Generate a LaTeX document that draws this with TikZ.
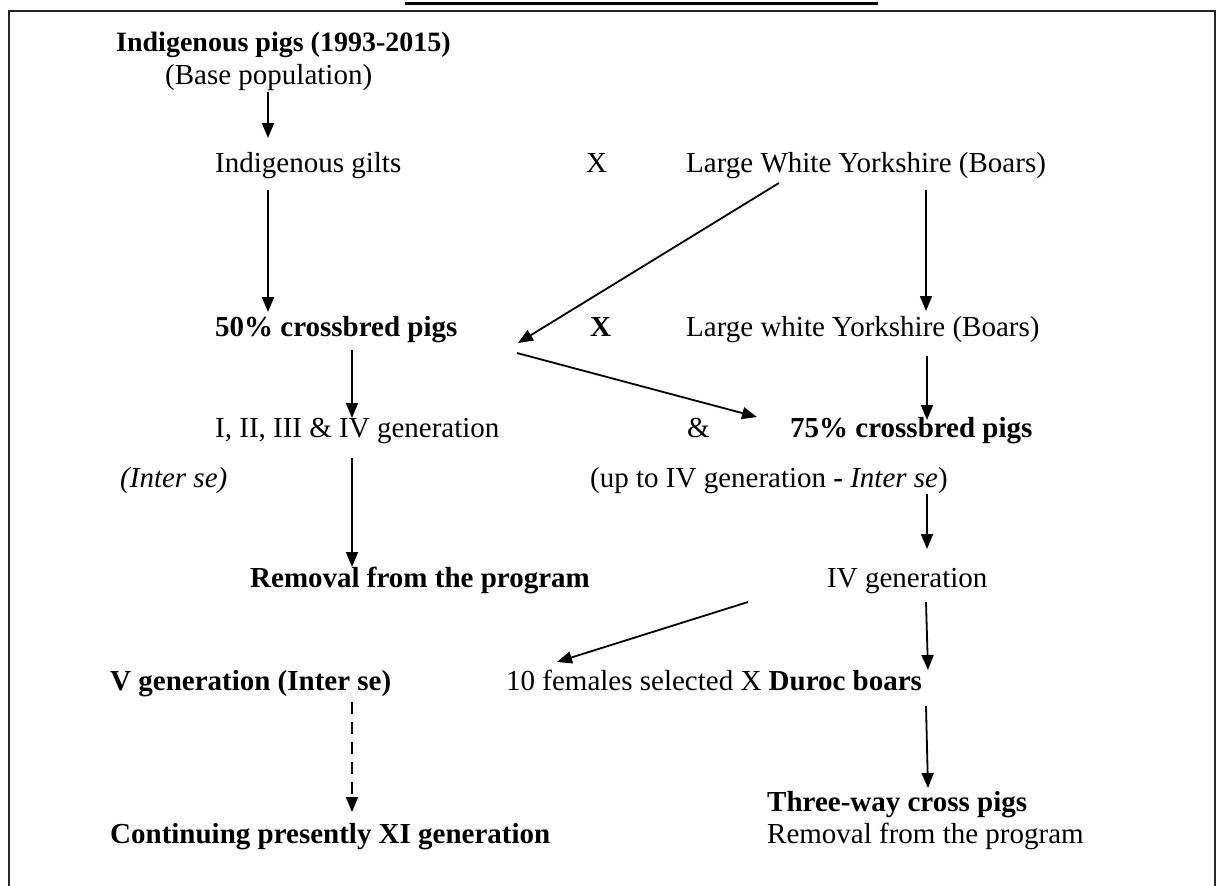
\documentclass[tikz,border=0pt]{standalone}
\usepackage{fontspec}
\setmainfont{Liberation Serif}
\usetikzlibrary{arrows.meta}
\begin{document}
\begin{tikzpicture}[x=1pt,y=-1pt,
  txt/.style={inner sep=0pt, anchor=west, font=\fontsize{29}{33}\selectfont, text height=19pt, text depth=6pt},
  btxt/.style={txt, font=\fontsize{29}{33}\selectfont\bfseries},
  ttxt/.style={txt, font=\fontsize{28}{32}\selectfont\bfseries},
  arr/.style={line width=1.8pt, -{Triangle[length=15pt,width=12pt]}},
  darr/.style={arr, dash pattern=on 12pt off 8pt},
]
\useasboundingbox (0,0) rectangle (1216,886);
% frame and top rule
\draw[line width=3pt] (405,3.5) -- (878,3.5);
\draw[line width=2pt, black!85] (9,886) -- (9,10.5) -- (1215,10.5) -- (1215,886);

% texts
\node[ttxt] (n1) at (116,45) {Indigenous pigs (1993-2015)};
\node[txt] (n2) at (165,78) {(Base population)};
\node[txt] (n3) at (215,166) {Indigenous gilts};
\node[txt] (x1) at (586,166) {X};
\node[txt] (n4) at (686,166) {Large White Yorkshire (Boars)};
\node[btxt] (n5) at (215,330) {50\% crossbred pigs};
\node[btxt] (x2) at (590,330) {X};
\node[txt] (n6) at (686,330) {Large white Yorkshire (Boars)};
\node[txt] (n7) at (215,431) {I, II, III \& IV generation};
\node[txt] (amp) at (687,431) {\&};
\node[btxt] (n8) at (790,431) {75\% crossbred pigs};
\node[txt] (n9) at (120,481) {\itshape (Inter se)};
\node[txt] (n10) at (590,481) {(up to IV generation \textbf{-} \textit{Inter se})};
\node[btxt] (n11) at (250,581) {Removal from the program};
\node[txt] (n12) at (827,581) {IV generation};
\node[btxt] (n13) at (110,684) {V generation (Inter se)};
\node[txt] (n14) at (506,684) {10 females selected X \textbf{Duroc boars}};
\node[btxt] (n15) at (767,805) {Three-way cross pigs};
\node[btxt] (n16) at (110,837) {Continuing presently XI generation};
\node[txt] (n17) at (767,837) {Removal from the program};

% arrow end points
\coordinate (a1s) at (268,92);   \coordinate (a1e) at (268,138);
\coordinate (a2s) at (268,190);  \coordinate (a2e) at (268,312);
\coordinate (a3s) at (779,183);  \coordinate (a3e) at (518,343);
\coordinate (a4s) at (926,190);  \coordinate (a4e) at (926,311);
\coordinate (a5s) at (517,353);  \coordinate (a5e) at (757,417);
\coordinate (a6s) at (352,350);  \coordinate (a6e) at (352,418);
\coordinate (a7s) at (927,356);  \coordinate (a7e) at (927,420);
\coordinate (a8s) at (352,458);  \coordinate (a8e) at (352,567);
\coordinate (a9s) at (927,494);  \coordinate (a9e) at (927,549);
\coordinate (a10s) at (748,602); \coordinate (a10e) at (557,662);
\coordinate (a11s) at (926,602); \coordinate (a11e) at (928,670);
\coordinate (a12s) at (352,702); \coordinate (a12e) at (352,812);
\coordinate (a13s) at (926,706); \coordinate (a13e) at (928,788);

\draw[arr] (a1s) -- (a1e);
\draw[arr] (a2s) -- (a2e);
\draw[arr] (a3s) -- (a3e);
\draw[arr] (a4s) -- (a4e);
\draw[arr] (a5s) -- (a5e);
\draw[arr] (a6s) -- (a6e);
\draw[arr] (a7s) -- (a7e);
\draw[arr] (a8s) -- (a8e);
\draw[arr] (a9s) -- (a9e);
\draw[arr] (a10s) -- (a10e);
\draw[arr] (a11s) -- (a11e);
\draw[darr] (a12s) -- (a12e);
\draw[arr] (a13s) -- (a13e);
\end{tikzpicture}
\end{document}
